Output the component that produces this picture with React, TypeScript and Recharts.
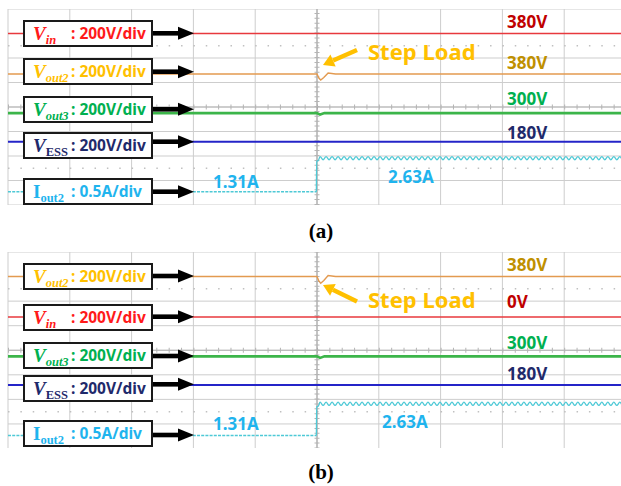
import React from 'react'
import { LineChart, Line, XAxis, YAxis, CartesianGrid, ReferenceLine } from 'recharts'

// scope screen: 10 x 8 divisions, centre of screen = (5, 0)
const xTicks = [0, 1, 2, 3, 4, 5, 6, 7, 8, 9, 10]
const yTicks = [-4, -3, -2, -1, 0, 1, 2, 3, 4]

// trace levels in screen divisions, t in divisions (step load at t = 5)
const vinA = [{ t: 0, v: 3.0 }, { t: 10.3, v: 3.0 }]
const vout2A = [
  { t: 0, v: 1.35 }, { t: 5.0, v: 1.35 }, { t: 5.03, v: 1.18 }, { t: 5.06, v: 1.1 },
  { t: 5.11, v: 1.2 }, { t: 5.18, v: 1.39 }, { t: 5.3, v: 1.35 }, { t: 10.3, v: 1.35 },
]
const vout3A = [{ t: 0, v: -0.25 }, { t: 5.0, v: -0.25 }, { t: 5.05, v: -0.31 }, { t: 5.12, v: -0.25 }, { t: 10.3, v: -0.25 }]
const vessA = [{ t: 0, v: -1.42 }, { t: 10.3, v: -1.42 }]
const ioutLowA = -3.46
const ioutHighA = -2.09

const vout2B = [
  { t: 0, v: 3.0 }, { t: 5.0, v: 3.0 }, { t: 5.03, v: 2.82 }, { t: 5.06, v: 2.73 },
  { t: 5.11, v: 2.84 }, { t: 5.18, v: 3.04 }, { t: 5.3, v: 3.0 }, { t: 10.3, v: 3.0 },
]
const vinB = [{ t: 0, v: 1.35 }, { t: 10.3, v: 1.35 }]
const vout3B = [{ t: 0, v: -0.25 }, { t: 5.0, v: -0.25 }, { t: 5.05, v: -0.31 }, { t: 5.12, v: -0.25 }, { t: 10.3, v: -0.25 }]
const vessB = [{ t: 0, v: -1.41 }, { t: 10.3, v: -1.41 }]
const ioutLowB = -3.47
const ioutHighB = -2.18

// current ripple after the step, sampled every rippleDt divisions (deviation in divisions)
const rippleStart = 5.05
const rippleDt = 0.0485
const iOut2Ripple = [
  0.065, -0.065, 0.065, -0.065, 0.065, -0.065, 0.065, -0.065, 0.065, -0.065,
  0.065, -0.065, 0.065, -0.065, 0.065, -0.065, 0.065, -0.065, 0.065, -0.065,
  0.065, -0.065, 0.065, -0.065, 0.065, -0.065, 0.065, -0.065, 0.065, -0.065,
  0.065, -0.065, 0.065, -0.065, 0.065, -0.065, 0.065, -0.065, 0.065, -0.065,
  0.065, -0.065, 0.065, -0.065, 0.065, -0.065, 0.065, -0.065, 0.065, -0.065,
  0.065, -0.065, 0.065, -0.065, 0.065, -0.065, 0.065, -0.065, 0.065, -0.065,
  0.065, -0.065, 0.065, -0.065, 0.065, -0.065, 0.065, -0.065, 0.065, -0.065,
  0.065, -0.065, 0.065, -0.065, 0.065, -0.065, 0.065, -0.065, 0.065, -0.065,
  0.065, -0.065, 0.065, -0.065, 0.065, -0.065, 0.065, -0.065, 0.065, -0.065,
  0.065, -0.065, 0.065, -0.065, 0.065, -0.065, 0.065, -0.065, 0.065, -0.065,
  0.065, -0.065, 0.065, -0.065, 0.065, -0.065, 0.065, -0.065,
]

const C = {
  vin: '#e8393d', vout2: '#e39a50', vout3: '#3cb54a', vess: '#2424c8', iout: '#4ec9d6',
}

function ioutBefore(low: number) {
  return [{ t: 0, v: low }, { t: 4.99, v: low }]
}
function ioutAfter(low: number, high: number) {
  return [
    { t: 4.99, v: low },
    { t: 4.995, v: high - 0.12 },
    { t: 5.02, v: high - 0.1 },
    ...iOut2Ripple.map((d, i) => ({ t: rippleStart + i * rippleDt, v: high + d })),
  ]
}

type Trace = { data: { t: number; v: number }[]; color: string; width: number }

function Screen({ height, traces, ioutLow, ioutHigh }: { height: number; traces: Trace[]; ioutLow: number; ioutHigh: number }) {
  return (
    <LineChart width={640} height={height} margin={{ top: 0, right: 14, bottom: 0, left: 8 }}>
      <XAxis type="number" dataKey="t" domain={[0, 10]} ticks={xTicks} hide allowDataOverflow />
      <YAxis type="number" dataKey="v" domain={[-4, 4]} ticks={yTicks} hide allowDataOverflow />
      <CartesianGrid stroke="#cdcdcd" strokeWidth={1} />
      <ReferenceLine y={2.5} stroke="#c0c0c0" strokeWidth={1.5} strokeDasharray="1.5 10.86" />
      <ReferenceLine y={-2.5} stroke="#c0c0c0" strokeWidth={1.5} strokeDasharray="1.5 10.86" />
      <ReferenceLine y={0} stroke="#b4b4b4" strokeWidth={1} />
      <ReferenceLine y={0} stroke="#b4b4b4" strokeWidth={5} strokeDasharray="1 11.36" />
      <ReferenceLine x={5} stroke="#a0a0a0" strokeWidth={1} />
      <ReferenceLine x={5} stroke="#b4b4b4" strokeWidth={5} strokeDasharray="1 3.9" />
      {traces.map((tr, i) => (
        <Line key={i} data={tr.data} dataKey="v" type="linear" stroke={tr.color} strokeWidth={tr.width}
          dot={false} activeDot={false} isAnimationActive={false} />
      ))}
      <Line data={ioutBefore(ioutLow)} dataKey="v" type="linear" stroke={C.iout} strokeWidth={1.4}
        strokeDasharray="3 1.2" dot={false} activeDot={false} isAnimationActive={false} />
      <Line data={ioutAfter(ioutLow, ioutHigh)} dataKey="v" type="monotone" stroke={C.iout} strokeWidth={1.3}
        dot={false} activeDot={false} isAnimationActive={false} />
    </LineChart>
  )
}

const sans = '"Noto Sans", "Open Sans", sans-serif'
const serif = '"Liberation Serif", "DejaVu Serif", serif'

function ChannelBox({ top, name, sub, color, scale, italic, subItalic }: {
  top: number; name: string; sub: string; color: string; scale: string; italic: boolean; subItalic: boolean
}) {
  return (
    <div style={{
      position: 'absolute', left: 23, top, width: 126, height: 23, border: '2px solid #1a1a1a',
      background: '#fff', color, whiteSpace: 'nowrap',
    }}>
      <span style={{ position: 'absolute', left: 8, top: 0, lineHeight: '23px', fontFamily: serif, fontWeight: 700, fontSize: 19, fontStyle: italic ? 'italic' : 'normal' }}>
        {name}
        <span style={{ fontSize: 12.5, position: 'relative', top: 4, fontStyle: subItalic ? 'italic' : 'normal' }}>{sub}</span>
      </span>
      <span style={{ position: 'absolute', left: 46, top: 0, lineHeight: '23px', fontFamily: sans, fontWeight: 700, fontSize: 15.5 }}>
        : {scale}
      </span>
    </div>
  )
}

function Tag({ x, y, text, color, size }: { x: number; y: number; text: string; color: string; size: number }) {
  return (
    <div style={{ position: 'absolute', left: x, top: y - 12, lineHeight: '24px', fontFamily: sans, fontWeight: 700, fontSize: size, color, whiteSpace: 'nowrap' }}>
      {text}
    </div>
  )
}

function Arrow({ y }: { y: number }) {
  return (
    <g>
      <rect x={151} y={y - 2.3} width={29} height={4.6} fill="#000" />
      <polygon points={`${178},${y - 6.5} ${194},${y} ${178},${y + 6.5}`} fill="#000" />
    </g>
  )
}

function StepArrow({ x1, y1, x2, y2 }: { x1: number; y1: number; x2: number; y2: number }) {
  const a = Math.atan2(y2 - y1, x2 - x1)
  const hl = 11, hw = 6.5
  const bx = x2 - hl * Math.cos(a), by = y2 - hl * Math.sin(a)
  const px = -Math.sin(a) * hw, py = Math.cos(a) * hw
  return (
    <g>
      <line x1={x1} y1={y1} x2={bx} y2={by} stroke="#ffc000" strokeWidth={4.5} />
      <polygon points={`${x2},${y2} ${bx + px},${by + py} ${bx - px},${by - py}`} fill="#ffc000" />
    </g>
  )
}

export default function App() {
  return (
    <div style={{ position: 'absolute', left: 0, top: 0, width: 621, height: 486, overflow: 'hidden', background: '#fff' }}>
      <div style={{ position: 'absolute', left: 0, top: 9 }}>
        <Screen
          height={196}
          traces={[
            { data: vinA, color: C.vin, width: 1.5 },
            { data: vout2A, color: C.vout2, width: 1.4 },
            { data: vout3A, color: C.vout3, width: 2.6 },
            { data: vessA, color: C.vess, width: 2 },
          ]}
          ioutLow={ioutLowA} ioutHigh={ioutHighA}
        />
      </div>
      <div style={{ position: 'absolute', left: 0, top: 251.5 }}>
        <Screen
          height={196.5}
          traces={[
            { data: vout2B, color: C.vout2, width: 1.4 },
            { data: vinB, color: C.vin, width: 1.5 },
            { data: vout3B, color: C.vout3, width: 2.6 },
            { data: vessB, color: C.vess, width: 2 },
          ]}
          ioutLow={ioutLowB} ioutHigh={ioutHighB}
        />
      </div>

      <svg width={621} height={486} style={{ position: 'absolute', left: 0, top: 0 }}>
        {[33.3, 71.7, 109.3, 141.7, 191.7].map((y) => <Arrow key={y} y={y} />)}
        {[276, 316.7, 356, 384.3, 435].map((y) => <Arrow key={y} y={y} />)}
        <StepArrow x1={357} y1={50} x2={323} y2={65} />
        <StepArrow x1={357} y1={301.5} x2={323} y2={285} />
      </svg>

      <ChannelBox top={20} name="V" sub="in" color="#ff1a1a" scale="200V/div" italic subItalic />
      <ChannelBox top={57.5} name="V" sub="out2" color="#ffc000" scale="200V/div" italic subItalic />
      <ChannelBox top={96} name="V" sub="out3" color="#00b050" scale="200V/div" italic subItalic />
      <ChannelBox top={132.3} name="V" sub="ESS" color="#1f2a6b" scale="200V/div" italic subItalic={false} />
      <ChannelBox top={177.7} name="I" sub="out2" color="#1fb4ee" scale="0.5A/div" italic={false} subItalic={false} />

      <ChannelBox top={263.3} name="V" sub="out2" color="#ffc000" scale="200V/div" italic subItalic />
      <ChannelBox top={304} name="V" sub="in" color="#ff1a1a" scale="200V/div" italic subItalic />
      <ChannelBox top={341.7} name="V" sub="out3" color="#00b050" scale="200V/div" italic subItalic />
      <ChannelBox top={375} name="V" sub="ESS" color="#1f2a6b" scale="200V/div" italic subItalic={false} />
      <ChannelBox top={420} name="I" sub="out2" color="#1fb4ee" scale="0.5A/div" italic={false} subItalic={false} />

      <Tag x={507} y={22.3} text="380V" color="#c00000" size={17} />
      <Tag x={507} y={63.3} text="380V" color="#bf9000" size={17} />
      <Tag x={507} y={99} text="300V" color="#00b050" size={17} />
      <Tag x={507} y={133.3} text="180V" color="#1f2a6b" size={17} />
      <Tag x={368} y={51} text="Step Load" color="#ffc000" size={22} />
      <Tag x={213} y={181.7} text="1.31A" color="#1fb4ee" size={17} />
      <Tag x={388} y={176.7} text="2.63A" color="#1fb4ee" size={17} />

      <Tag x={507} y={265} text="380V" color="#bf9000" size={17} />
      <Tag x={507} y={301.7} text="0V" color="#c00000" size={17} />
      <Tag x={507} y={342.7} text="300V" color="#00b050" size={17} />
      <Tag x={507} y={374} text="180V" color="#1f2a6b" size={17} />
      <Tag x={368} y={299.3} text="Step Load" color="#ffc000" size={22} />
      <Tag x={213} y={424.3} text="1.31A" color="#1fb4ee" size={17} />
      <Tag x={382} y={421.7} text="2.63A" color="#1fb4ee" size={17} />

      <div style={{ position: 'absolute', left: 271, width: 100, top: 218, textAlign: 'center', fontFamily: serif, fontWeight: 700, fontSize: 21, lineHeight: '26px' }}>(a)</div>
      <div style={{ position: 'absolute', left: 271, width: 100, top: 459, textAlign: 'center', fontFamily: serif, fontWeight: 700, fontSize: 21, lineHeight: '26px' }}>(b)</div>
    </div>
  )
}
